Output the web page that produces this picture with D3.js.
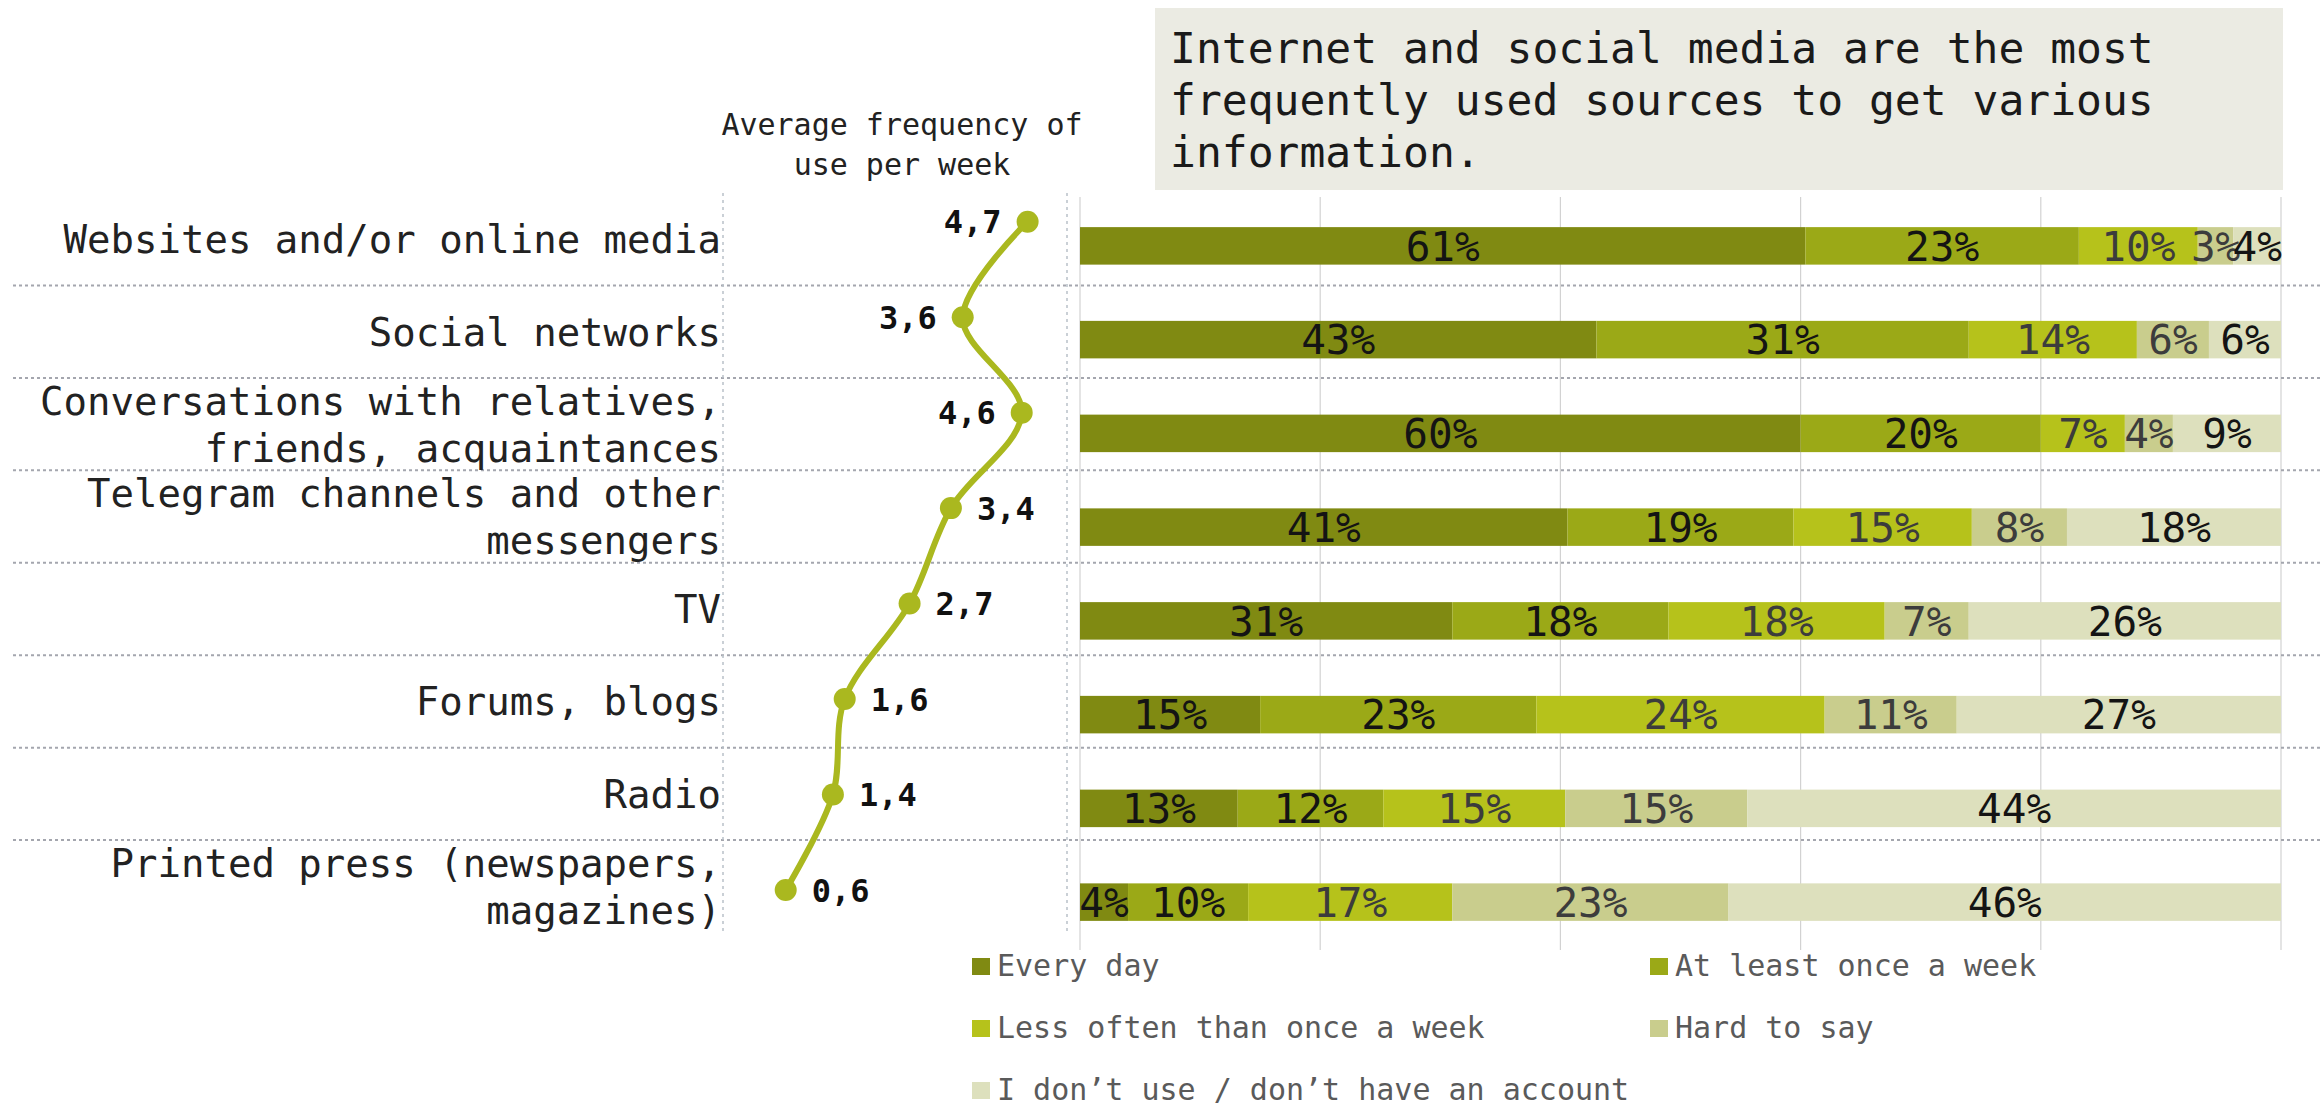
<!DOCTYPE html>
<html>
<head>
<meta charset="utf-8">
<script src="https://cdn.jsdelivr.net/npm/d3@7"></script>
<style>
  html, body { margin: 0; padding: 0; background: #ffffff; }
  svg { display: block; }
  text { font-family: "DejaVu Sans Mono", "Liberation Mono", monospace; }
</style>
</head>
<body>
<svg id="chart" width="2323" height="1106"></svg>
<script>
// ---- data ----
const categories = [
  "Websites and/or online media",
  "Social networks",
  "Conversations with relatives, friends, acquaintances",
  "Telegram channels and other messengers",
  "TV",
  "Forums, blogs",
  "Radio",
  "Printed press (newspapers, magazines)"
];
const avgPerWeek = [4.7, 3.6, 4.6, 3.4, 2.7, 1.6, 1.4, 0.6];

const seriesNames = [
  "Every day",
  "At least once a week",
  "Less often than once a week",
  "Hard to say",
  "I don’t use / don’t have an account"
];
const everyDay    = [61, 43, 60, 41, 31, 15, 13, 4];
const weekly      = [23, 31, 20, 19, 18, 23, 12, 10];
const lessOften   = [10, 14, 7, 15, 18, 24, 15, 17];
const hardToSay   = [3, 6, 4, 8, 7, 11, 15, 23];
const dontUse     = [4, 6, 9, 18, 26, 27, 44, 46];

const title = [
  "Internet and social media are the most",
  "frequently used sources to get various",
  "information."
];
const lineTitle = ["Average frequency of", "use per week"];

// ---- styling ----
const seriesColors = ["#808a12", "#9ba917", "#b6c21b", "#c9cd8d", "#dde0bd"];
const labelColors  = ["#141414", "#141414", "#3c3c3c", "#3c3c3c", "#141414"];
const lineColor = "#aab81f";

const svg = d3.select("#chart");
const keys = seriesNames;
const seriesValues = [everyDay, weekly, lessOften, hardToSay, dontUse];
const rows = categories.map((c, i) => {
  const r = { category: c };
  keys.forEach((k, j) => { r[k] = seriesValues[j][i]; });
  return r;
});

// ---- scales ----
const rowBand = d3.scaleBand().domain(categories).range([193, 932.5]);
const barY = d3.scaleBand().domain(categories).range([199, 949]).paddingInner(0.6).paddingOuter(0.3);
const barX = d3.scaleLinear().domain([0, 1]).range([1080, 2281]);
const lineY = d3.scalePoint().domain(categories).range([221.7, 890]);
const lineX = d3.scaleLinear().domain([0, 5]).range([750.3, 1045.3]);

// ---- title box ----
svg.append("rect")
  .attr("x", 1155).attr("y", 8).attr("width", 1128).attr("height", 182)
  .attr("fill", "#ebebe3");
svg.append("g").selectAll("text").data(title).join("text")
  .attr("x", 1170).attr("y", (d, i) => 63 + i * 52)
  .attr("font-size", 43).attr("fill", "#1a1a1a")
  .text(d => d);

// ---- line panel heading ----
svg.append("g").selectAll("text").data(lineTitle).join("text")
  .attr("x", 902).attr("y", (d, i) => 135 + i * 40)
  .attr("text-anchor", "middle").attr("font-size", 30).attr("fill", "#222")
  .text(d => d);

// ---- grid: vertical percentage lines ----
svg.append("g").selectAll("line").data(d3.range(0, 1.0001, 0.2)).join("line")
  .attr("x1", d => barX(d)).attr("x2", d => barX(d))
  .attr("y1", 197).attr("y2", 950)
  .attr("stroke", "#d2d2d2").attr("stroke-width", 1.2);

// ---- row separators (dotted) ----
const seps = categories.slice(1).map(c => rowBand(c));
svg.append("g").selectAll("line").data(seps).join("line")
  .attr("x1", 13).attr("x2", 2323)
  .attr("y1", d => d).attr("y2", d => d)
  .attr("stroke", "#a4a6ae").attr("stroke-width", 2).attr("stroke-dasharray", "3,3");

// ---- vertical dashed frame lines around the line panel ----
svg.append("g").selectAll("line").data([723, 1067]).join("line")
  .attr("x1", d => d).attr("x2", d => d)
  .attr("y1", 193).attr("y2", 933)
  .attr("stroke", "#b9c1c9").attr("stroke-width", 1.5).attr("stroke-dasharray", "3,4");

// ---- category labels (word-wrapped, right aligned) ----
function wrap(str, maxChars) {
  const words = str.split(" ");
  const lines = [];
  let cur = "";
  words.forEach(w => {
    const next = cur ? cur + " " + w : w;
    if (next.length > maxChars && cur) { lines.push(cur); cur = w; }
    else cur = next;
  });
  if (cur) lines.push(cur);
  return lines;
}
const catG = svg.append("g");
categories.forEach(c => {
  const lines = wrap(c, 29);
  const cy = rowBand(c) + rowBand.bandwidth() / 2;
  const lh = 47;
  const first = cy - (lines.length - 1) * lh / 2 + 14;
  catG.append("text")
    .attr("text-anchor", "end").attr("font-size", 39).attr("fill", "#222")
    .selectAll("tspan").data(lines).join("tspan")
    .attr("x", 721).attr("y", (d, i) => first + i * lh)
    .text(d => d);
});

// ---- stacked 100% bars ----
const stacked = d3.stack().keys(keys).offset(d3.stackOffsetExpand)(rows);
const barG = svg.append("g");
stacked.forEach((layer, j) => {
  const g = barG.append("g");
  g.selectAll("rect").data(layer).join("rect")
    .attr("x", d => barX(d[0]))
    .attr("width", d => barX(d[1]) - barX(d[0]))
    .attr("y", d => barY(d.data.category))
    .attr("height", barY.bandwidth())
    .attr("fill", seriesColors[j]);
});
stacked.forEach((layer, j) => {
  barG.append("g").selectAll("text").data(layer).join("text")
    .attr("x", d => (barX(d[0]) + barX(d[1])) / 2)
    .attr("y", d => barY(d.data.category) + barY.bandwidth() / 2)
    .attr("dy", "0.36em")
    .attr("text-anchor", "middle").attr("font-size", 41)
    .attr("fill", labelColors[j])
    .text(d => d.data[keys[j]] + "%");
});

// ---- average frequency line ----
const pts = categories.map((c, i) => ({ c, v: avgPerWeek[i] }));
svg.append("path").datum(pts)
  .attr("fill", "none").attr("stroke", lineColor).attr("stroke-width", 6)
  .attr("stroke-linecap", "round")
  .attr("d", d3.line().x(d => lineX(d.v)).y(d => lineY(d.c)).curve(d3.curveCatmullRom.alpha(0.5)));
svg.append("g").selectAll("circle").data(pts).join("circle")
  .attr("cx", d => lineX(d.v)).attr("cy", d => lineY(d.c)).attr("r", 11)
  .attr("fill", lineColor);
// first three values sit left of their point, the rest to the right
svg.append("g").selectAll("text").data(pts).join("text")
  .attr("x", (d, i) => lineX(d.v) + (i < 3 ? -26 : 26))
  .attr("y", d => lineY(d.c)).attr("dy", "0.36em")
  .attr("text-anchor", (d, i) => i < 3 ? "end" : "start")
  .attr("font-size", 32).attr("font-weight", "bold").attr("fill", "#111")
  .text(d => d3.format(".1f")(d.v).replace(".", ","));

// ---- legend ----
const legendPos = [[972, 958], [1650, 958], [972, 1020], [1650, 1020], [972, 1082]];
const lg = svg.append("g");
keys.forEach((k, j) => {
  const [x, y] = legendPos[j];
  lg.append("rect").attr("x", x).attr("y", y).attr("width", 18).attr("height", 17)
    .attr("fill", seriesColors[j]);
  lg.append("text").attr("x", x + 25).attr("y", y + 18)
    .attr("font-size", 30).attr("fill", "#5a5a5a").text(k);
});
</script>
</body>
</html>
